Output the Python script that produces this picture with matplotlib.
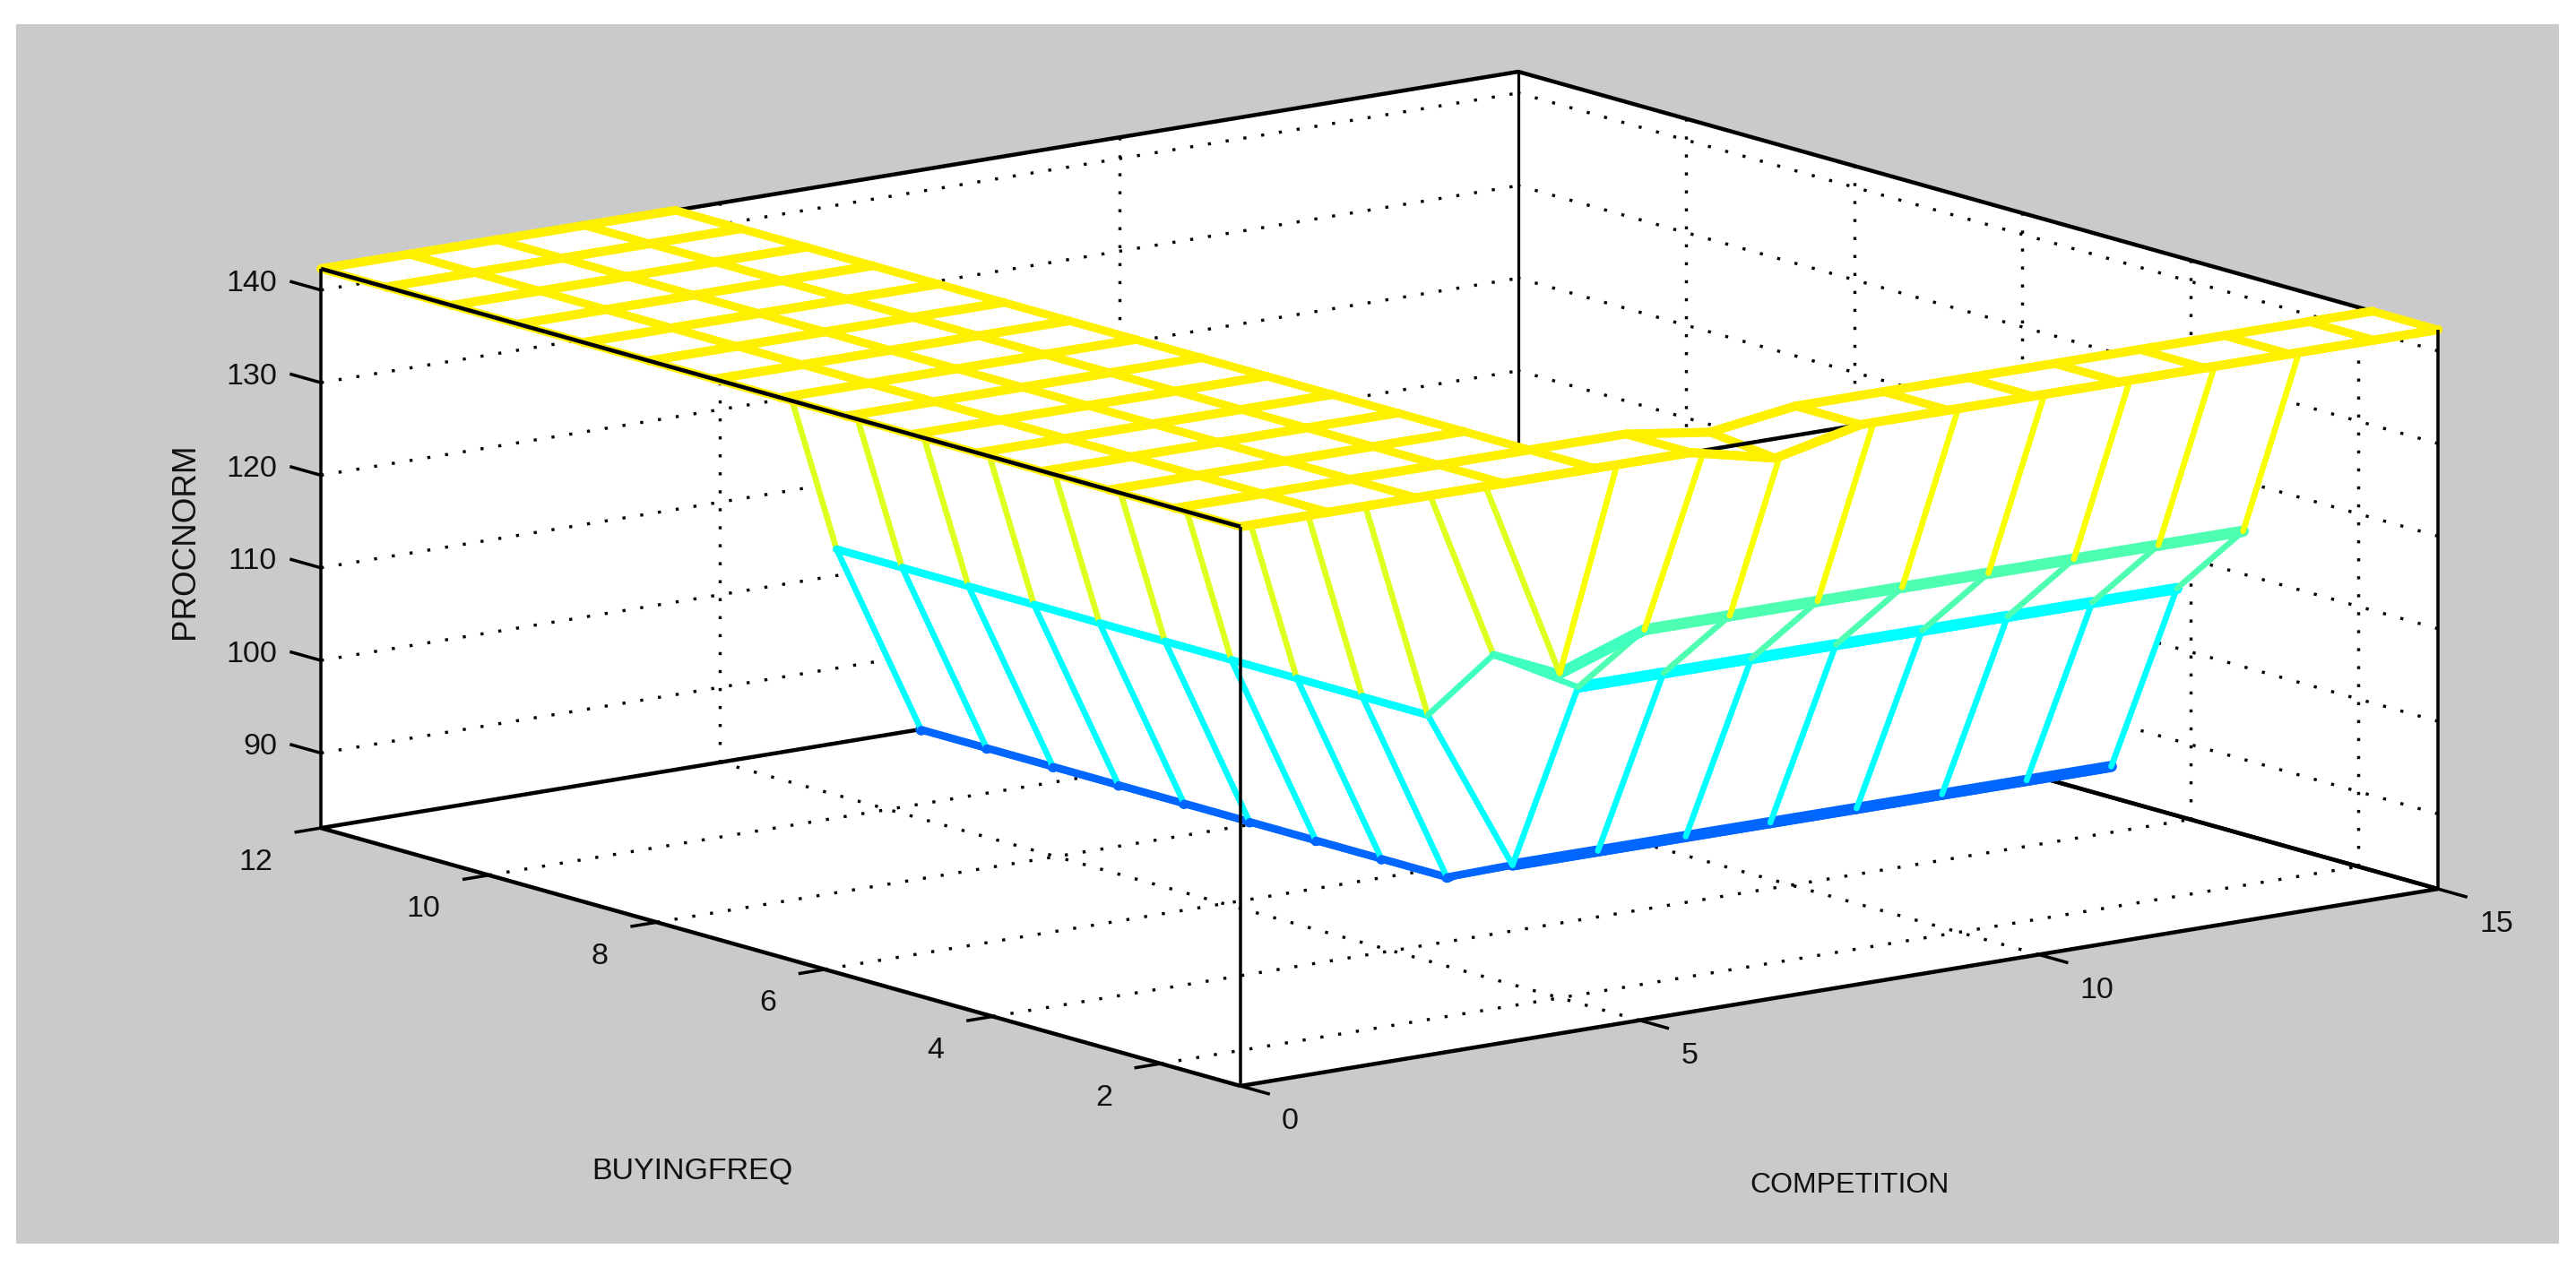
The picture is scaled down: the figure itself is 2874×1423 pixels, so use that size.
# Mesh of PROCNORM over COMPETITION and BUYINGFREQ
import numpy as np
import matplotlib
matplotlib.use('Agg')
import matplotlib.pyplot as plt
from matplotlib.colors import LinearSegmentedColormap
from matplotlib.patches import Rectangle
from mpl_toolkits.mplot3d import proj3d
from mpl_toolkits.mplot3d.art3d import Poly3DCollection

plt.rcParams['font.family'] = ['Liberation Sans', 'DejaVu Sans']

# Limits and ticks
comp_lim = (0, 15)
freq_lim = (1.05, 12)
proc_lim = (81.9, 142.3)
comp_ticks = [0, 5, 10, 15]
freq_ticks = [2, 4, 6, 8, 10, 12]
proc_ticks = [90, 100, 110, 120, 130, 140]

# Mesh nodes
competition = [0, 1.1, 2.2, 3.3, 4.44, 5.64, 6.7, 7.77, 8.87, 9.93, 11.01, 12.08, 13.14, 14.2, 15]
buyingfreq = [1.05, 1.83, 2.61, 3.4, 4.18, 4.96, 5.74, 6.52, 7.31, 8.09, 8.87, 9.65, 10.44, 11.22, 12]
T = 142.3
N = np.nan
procnorm = [
    [T, T, T, T, T, T, 140.2, T, T, T, T, T, T, T, T],
    [T, T, T, T, T, T, 141, T, T, T, T, T, T, T, T],
    [T, T, T, T, T, 114.5, 117.7, 117.7, 117.7, 117.7, 117.7, 117.7, 117.7, 117.7, N],
    [T, T, T, T, T, 114.5, 109.5, 109.5, 109.5, 109.5, 109.5, 109.5, 109.5, 109.5, N],
    [T, T, T, T, T, 106, 88.3, 88.3, 88.3, 88.3, 88.3, 88.3, 88.3, 88.3, N],
    [T, T, T, T, T, 106, 85, 88, 88, 88, 88, 88, 88, 88, N],
    [T, T, T, T, T, 106, 85, 88, 88, 88, 88, 88, 88, 88, N],
    [T, T, T, T, T, 106, 85, 88, 88, 88, 88, 88, 88, 88, N],
    [T, T, T, T, T, 106, 85, 88, 88, 88, 88, 88, 88, 88, N],
    [T, T, T, T, T, 106, 85, 88, 88, 88, 88, 88, 88, 88, N],
    [T, T, T, T, T, 106, 85, 88, 88, 88, 88, 88, 88, 88, N],
    [T, T, T, T, T, 106, 85, 88, 88, 88, 88, 88, 88, 88, N],
    [T, T, T, T, T, 106, 85, 88, 88, 88, 88, 88, 88, 88, N],
    [T, T, T, T, T, 106, 85, 88, 88, 88, 88, 88, 88, 88, N],
    [T, T, T, T, T, N, N, N, N, N, N, N, N, N, N],
]

# Colours of the mesh by height
levels = [85, 88.3, 106, 110, 114.5, 117.7, 136, 140, 142.3]
level_colors = ['#0066FF', '#0066FF', '#00FFFF', '#00FFFF', '#40FFC0', '#4DFFB3',
                '#DFFF20', '#FFF000', '#FFF000']
stops = [(v - levels[0]) / (levels[-1] - levels[0]) for v in levels]
mesh_cmap = LinearSegmentedColormap.from_list('mesh', list(zip(stops, level_colors)))

PX = 0.72  # one pixel in points at dpi 100
W, H = 2874, 1423

fig = plt.figure(figsize=(W / 100, H / 100), dpi=100, facecolor='white')
fig.add_artist(Rectangle((18 / W, 1 - 1388 / H), (2855 - 18) / W, (1388 - 27) / H,
                         transform=fig.transFigure, facecolor='#CACACA', edgecolor='none', zorder=-1))

side = 3600
ax = fig.add_axes([(W - side) / 2 / W, (H - side) / 2 / H, side / W, side / H],
                  projection='3d', computed_zorder=False)
ax.patch.set_alpha(0)
ax.set_axis_off()
ax.set_proj_type('ortho')
ax.view_init(elev=12.41, azim=-127.45)
ax.set_xticks([])
ax.set_yticks([])
ax.set_zticks([])
ax.set_xlim(*comp_lim, view_margin=0)
ax.set_ylim(*freq_lim, view_margin=0)
ax.set_zlim(*proc_lim, view_margin=0)
box = (1682.5, 1687, 639)
ax.set_box_aspect(box)

x0, x1 = comp_lim
y0, y1 = freq_lim
z0, z1 = proc_lim


def to_pixel(x, y, z):
    ax.apply_aspect()
    px, py, _ = proj3d.proj_transform(x, y, z, ax.get_proj())
    return ax.transData.transform((px, py))


# Scale the box so its corners land where the picture has them
a = to_pixel(x0, y1, z0)
b = to_pixel(x1, y0, z0)
ax.set_box_aspect(box, zoom=(2720 - 358) / (b[0] - a[0]))
c = to_pixel(x0, y0, z0)
pos = ax.get_position(original=True)
ax.set_position([pos.x0 + (1384 - c[0]) / W, pos.y0 + ((H - 1212) - c[1]) / H, pos.width, pos.height])
ax.set_xlim(*comp_lim, view_margin=0)
ax.set_ylim(*freq_lim, view_margin=0)
ax.set_zlim(*proc_lim, view_margin=0)

order = [0]


def next_z():
    order[0] += 1
    return order[0]


def line3(xs, ys, zs, color='black', width=3.5, style='-', cap='butt'):
    ax.plot(xs, ys, zs, color=color, lw=width * PX, ls=style, solid_capstyle=cap,
            dash_capstyle='butt', zorder=next_z())


# White back walls and floor
walls = [
    [(x1, y0, z0), (x1, y1, z0), (x1, y1, z1), (x1, y0, z1)],
    [(x0, y1, z0), (x1, y1, z0), (x1, y1, z1), (x0, y1, z1)],
    [(x0, y0, z0), (x1, y0, z0), (x1, y1, z0), (x0, y1, z0)],
]
ax.add_collection3d(Poly3DCollection(walls, facecolors='white', edgecolors='white', zorder=next_z()))

# Dotted grid
dots = (0, (1.0, 4.9))
for x in comp_ticks[1:-1]:
    line3([x, x], [y0, y1], [z0, z0], width=3.4, style=dots)
    line3([x, x], [y1, y1], [z0, z1], width=3.4, style=dots)
for y in freq_ticks[:-1]:
    line3([x0, x1], [y, y], [z0, z0], width=3.4, style=dots)
    line3([x1, x1], [y, y], [z0, z1], width=3.4, style=dots)
for z in proc_ticks:
    line3([x0, x0, x1], [y1, y1, y1], [z, z, z], width=3.4, style=dots)
    line3([x1, x1], [y0, y1], [z, z], width=3.4, style=dots)

# Box edges behind the mesh
line3([x0, x0, x1, x1], [y0, y1, y1, y0], [z0, z0, z0, z0], width=4.5)
line3([x0, x1, x1], [y0, y0, y1], [z0, z0, z0], width=4.5)
line3([x1, x1], [y1, y1], [z0, z1], width=3.2)
line3([x0, x1, x1], [y1, y1, y0], [z1, z1, z1], width=4.5)


def segment(i1, j1, i2, j2):
    z_a, z_b = procnorm[j1][i1], procnorm[j2][i2]
    if np.isnan(z_a) or np.isnan(z_b):
        return
    along_comp = j1 == j2
    if abs(z_a - z_b) > 4:
        width = 6.5
        if z_a > 140:
            color = '#DFFF20' if along_comp else '#F8FF00'
        else:
            color = mesh_cmap((z_a - levels[0]) / (levels[-1] - levels[0]))
    else:
        color = mesh_cmap((z_a - levels[0]) / (levels[-1] - levels[0]))
        if z_a > 140:
            width = 10 if along_comp else 9
        else:
            width = 12.5 if along_comp else 8.5
    line3([competition[i1], competition[i2]], [buyingfreq[j1], buyingfreq[j2]], [z_a, z_b],
          color=color, width=width, cap='round')


# The viewer stands at low COMPETITION and low BUYINGFREQ, so draw far cells first
for i in range(len(competition) - 2, -1, -1):
    for j in range(len(buyingfreq) - 2, -1, -1):
        corners = [(i, j), (i + 1, j), (i + 1, j + 1), (i, j + 1)]
        zs = [procnorm[n][m] for m, n in corners]
        if not np.isnan(zs).any():
            quad = [(competition[m], buyingfreq[n], procnorm[n][m]) for m, n in corners]
            ax.add_collection3d(Poly3DCollection([quad], facecolors='white', edgecolors='none',
                                                 zorder=next_z()))
        segment(i, j + 1, i + 1, j + 1)
        segment(i + 1, j, i + 1, j + 1)
        segment(i, j, i + 1, j)
        segment(i, j, i, j + 1)

# Front top edge shows only where the mesh dips below it
line3([x0, x1], [y0, y0], [z1, z1], width=4.5)
for i in range(len(competition) - 1):
    segment(i, 0, i + 1, 0)

# Box edges in front of the mesh
line3([x0, x0], [y0, y1], [z1, z1], width=4.5)
line3([x0, x0], [y0, y0], [z0, z1], width=3.5)
line3([x0, x0], [y1, y1], [z0, z1], width=3.5)
line3([x1, x1], [y0, y0], [z0, z1], width=3.5)

# Ticks
for x in comp_ticks:
    line3([x, x], [y0, y0 - 0.35], [z0, z0], width=3.5)
for y in freq_ticks:
    line3([x0, x0 - 0.33], [y, y], [z0, z0], width=3.5)
for z in proc_ticks:
    line3([x0, x0], [y1, y1 + 0.37], [z, z], width=3.5)

# Tick labels
label_color = '#111111'
font_size = 24.5


def tick_label(x, y, z, text, ha):
    px, py = to_pixel(x, y, z)
    fig.text(px / W, py / H, text, ha=ha, va='center', color=label_color, fontsize=font_size)


for x in comp_ticks:
    tick_label(x, y0 - 0.49, z0 - 2.6, str(x), 'left')
for y in freq_ticks:
    tick_label(x0 - 0.606, y, z0 - 2.83, str(y), 'right')
for z in proc_ticks:
    tick_label(x0, y1 + 0.523, z - 0.65, str(z), 'right')

# Axis labels
fig.text(207 / W, 1 - 604 / H, 'PROCNORM', rotation=90, ha='center', va='center',
         color=label_color, fontsize=26.5)
fig.text(772 / W, 1 - 1308 / H, 'BUYINGFREQ', ha='center', va='center',
         color=label_color, fontsize=font_size)
fig.text(2064 / W, 1 - 1323 / H, 'COMPETITION', ha='center', va='center',
         color=label_color, fontsize=23)

fig.savefig('out.png', dpi=100)
